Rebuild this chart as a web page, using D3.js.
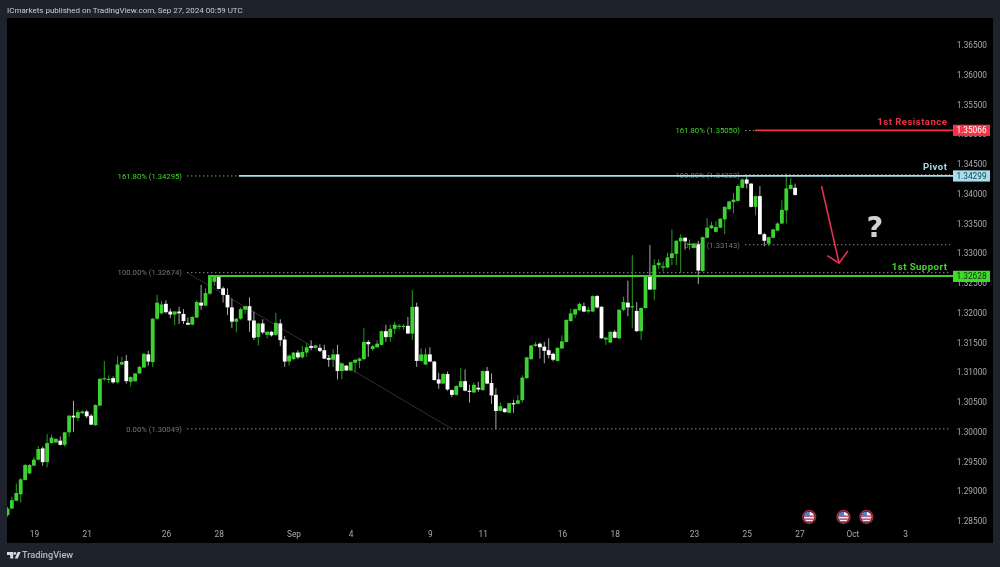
<!DOCTYPE html>
<html><head><meta charset="utf-8">
<script src="https://cdn.jsdelivr.net/npm/d3@7/dist/d3.min.js"></script>
<style>
html,body{margin:0;padding:0;background:#1e222d;overflow:hidden}
svg{display:block}
text{font-family:Roboto,"Liberation Sans",sans-serif}
</style></head><body>
<div id="chart"></div>
<script>
const opens=[12860,12871,12884,12895,12919,12930,12943,12953,12972,12949,
12981,12982,12985,12978,12999,13027,13023,13031,13034,13027,
13011,13044,13089,13087,13090,13083,13113,13119,13084,13085,
13098,13108,13130,13117,13190,13199,13215,13202,13197,13202,
13198,13183,13180,13192,13217,13212,13232,13252,13261,13241,
13230,13209,13185,13190,13205,13211,13187,13159,13182,13163,
13168,13163,13182,13155,13118,13122,13133,13125,13133,13144,
13141,13141,13137,13124,13121,13130,13102,13111,13103,13116,
13119,13122,13151,13139,13142,13146,13169,13159,13173,13177,
13177,13178,13165,13210,13119,13113,13130,13118,13088,13081,
13097,13070,13062,13075,13085,13069,13066,13074,13070,13102,
13082,13062,13035,13039,13032,13048,13047,13053,13090,13122,
13144,13148,13143,13137,13131,13119,13140,13151,13186,13197,
13204,13211,13202,13202,13228,13210,13155,13150,13168,13157,
13205,13217,13209,13203,13169,13208,13262,13239,13280,13276,
13276,13292,13299,13320,13326,13314,13309,13315,13270,13326,
13342,13336,13343,13357,13374,13386,13388,13410,13424,13417,
13378,13396,13332,13316,13326,13338,13350,13372,13408,13410];
const closes=[12871,12885,12897,12920,12944,12944,12953,12971,12949,12981,
12990,12988,12978,12999,13027,13024,13033,13034,13026,13012,
13045,13089,13090,13089,13083,13113,13117,13085,13092,13098,
13109,13131,13118,13190,13217,13214,13201,13197,13202,13199,
13186,13180,13193,13218,13212,13233,13262,13261,13240,13230,
13209,13185,13190,13206,13211,13187,13158,13182,13167,13168,
13162,13183,13154,13118,13128,13133,13125,13134,13142,13141,
13145,13136,13123,13121,13130,13102,13115,13103,13117,13121,
13123,13151,13147,13144,13148,13169,13159,13173,13180,13178,
13178,13165,13210,13119,13130,13130,13118,13087,13081,13097,
13071,13062,13077,13085,13069,13067,13079,13071,13102,13081,
13061,13035,13043,13033,13048,13047,13053,13091,13125,13145,
13147,13142,13136,13129,13121,13141,13152,13188,13199,13206,
13215,13202,13205,13228,13209,13157,13158,13168,13158,13205,
13218,13209,13211,13169,13208,13262,13239,13280,13284,13278,
13293,13300,13321,13326,13320,13316,13316,13271,13327,13343,
13347,13344,13358,13378,13387,13390,13413,13424,13417,13378,
13396,13332,13321,13327,13340,13350,13373,13409,13415,13398];
const highs=[12874,12891,12913,12922,12946,12946,12958,12976,12975,12996,
12995,12989,12992,13000,13028,13052,13037,13036,13037,13030,
13046,13090,13119,13095,13093,13127,13126,13129,13093,13099,
13111,13132,13136,13191,13230,13220,13221,13207,13203,13210,
13206,13192,13194,13221,13247,13241,13263,13262,13262,13244,
13241,13224,13191,13209,13212,13226,13202,13183,13189,13169,
13169,13200,13189,13161,13130,13134,13137,13144,13149,13154,
13146,13147,13146,13129,13139,13146,13116,13112,13118,13122,
13125,13174,13154,13146,13154,13170,13180,13180,13185,13181,
13181,13193,13238,13217,13140,13140,13142,13119,13099,13099,
13101,13071,13078,13107,13105,13079,13083,13084,13103,13109,
13098,13073,13049,13040,13049,13054,13062,13095,13126,13146,
13151,13150,13151,13157,13133,13142,13162,13189,13207,13207,
13217,13217,13210,13229,13230,13211,13159,13169,13171,13206,
13227,13254,13297,13218,13209,13263,13314,13290,13290,13286,
13301,13340,13322,13332,13327,13323,13317,13321,13328,13359,
13353,13354,13359,13379,13388,13401,13416,13426,13429,13418,
13397,13413,13334,13328,13341,13352,13389,13434,13426,13417];
const lows=[12857,12870,12883,12881,12918,12929,12943,12952,12943,12940,
12980,12981,12977,12975,12992,13000,13018,13030,13023,13011,
13010,13043,13086,13082,13081,13081,13112,13081,13076,13084,
13097,13107,13111,13109,13188,13197,13199,13191,13179,13181,
13181,13179,13179,13191,13205,13211,13230,13245,13239,13217,
13196,13174,13167,13188,13198,13168,13154,13145,13164,13157,
13160,13161,13144,13109,13111,13121,13122,13123,13126,13137,
13140,13134,13122,13109,13109,13088,13088,13102,13102,13099,
13107,13121,13126,13136,13141,13145,13151,13151,13164,13172,
13172,13165,13154,13109,13118,13112,13117,13086,13072,13080,
13069,13058,13061,13074,13068,13049,13065,13067,13069,13080,
13047,13004,13034,13032,13031,13032,13046,13049,13089,13121,
13143,13123,13115,13123,13118,13118,13139,13150,13185,13191,
13203,13201,13200,13201,13207,13156,13146,13149,13157,13156,
13203,13194,13174,13168,13154,13207,13238,13221,13273,13269,
13275,13280,13280,13267,13306,13306,13308,13248,13269,13325,
13341,13335,13342,13332,13373,13367,13387,13409,13409,13377,
13364,13331,13312,13312,13325,13337,13349,13350,13407,13397];

const priceTicks=[1.285,1.29,1.295,1.30,1.305,1.31,1.315,1.32,1.325,1.33,1.335,1.34,1.345,1.35,1.355,1.36,1.365];
const dateTickBars=[6,18,36,48,65,78,96,108,126,138,156,168,180,192,204];
const dateTickLabels=["19","21","26","28","Sep","4","9","11","16","18","23","25","27","Oct","3"];
const eventBars=[182.2,190,195.2];

const solidPrices=[1.35066,1.34299,1.32628];
const solidStarts=[169.9,52.6,45.6];
const tagTexts=["1.35066","1.34299","1.32628"];
const tagFills=["#f23645","#a5dff0","#41dc2c"];
const tagInk=["#ffffff","#1e3a44","#10300c"];
const lineColours=["#f23645","#a5dff0","#43c82c"];
const nameColours=["#e8334a","#9fdcec","#45d62e"];
const lineNames=["1st Resistance","Pivot","1st Support"];

const fibPrices=[1.35062,1.34299,1.34320,1.33143,1.32674,1.30049];
const fibStarts=[167.6,40.8,167.6,167.6,40.8,40.8];
const fibEnds=[169.9,52.6,214.2,214.2,214.2,214.2];
const fibLabels=["161.80% (1.35050)","161.80% (1.34295)","100.00% (1.34232)","0.00% (1.33143)","100.00% (1.32674)","0.00% (1.30049)"];
const fibColours=["#45d62e","#45d62e","#74767c","#74767c","#74767c","#74767c"];

const trendBars=[40.8,101];
const trendPrices=[1.32674,1.30049];
const arrowBars=[185,189];
const arrowPrices=[1.34130,1.32835];
const arrowHeadBars=[186.3,191];
const arrowHeadPrices=[1.32960,1.33040];

const W=1000,H=567;
const pane={l:7,r:993,t:18,b:543};
const x=d3.scaleLinear().domain([0,204]).range([7.5,905.1]);
const y=d3.scaleLinear().domain([1.285,1.365]).range([521,45]);
const GREEN="#3cd230",WHITE="#ffffff";

const svg=d3.select("#chart").append("svg").attr("width",W).attr("height",H);
const defs=svg.append("defs");
defs.append("clipPath").attr("id","pane").append("rect").attr("x",pane.l).attr("y",pane.t).attr("width",pane.r-pane.l).attr("height",pane.b-pane.t);
const soft=defs.append("filter").attr("id","soft");
soft.append("feGaussianBlur").attr("stdDeviation",0.3);
defs.append("clipPath").attr("id","disc").append("circle").attr("r",5.2);

svg.append("rect").attr("width",W).attr("height",H).attr("fill","#1e222d");
svg.append("rect").attr("x",pane.l).attr("y",pane.t).attr("width",pane.r-pane.l).attr("height",pane.b-pane.t).attr("fill","#000");

const root=svg.append("g").attr("filter","url(#soft)");

root.append("text").attr("x",7).attr("y",12.5).attr("font-size",8).attr("fill","#c9cbd1").text("ICmarkets published on TradingView.com, Sep 27, 2024 00:59 UTC");

// trend line under the candles
root.append("line").attr("x1",x(trendBars[0])).attr("y1",y(trendPrices[0])).attr("x2",x(trendBars[1])).attr("y2",y(trendPrices[1])).attr("stroke","#3a3b40").attr("stroke-width",0.8);

// dotted fib levels
const fib=root.append("g");
fibPrices.forEach((p,i)=>{
  fib.append("line").attr("x1",x(fibStarts[i])).attr("x2",x(fibEnds[i])).attr("y1",y(p)).attr("y2",y(p))
    .attr("stroke",i<2?fibColours[i]:"#8a8c91").attr("stroke-width",1).attr("stroke-dasharray","1.4,2.6");
  fib.append("text").attr("x",x(fibStarts[i])-5).attr("y",y(p)+2.8).attr("text-anchor","end")
    .attr("font-size",7.7).attr("fill",fibColours[i]).text(fibLabels[i]);
});

// candles
const bars=d3.range(opens.length);
const cg=root.append("g").attr("clip-path","url(#pane)");
cg.selectAll("line.wick").data(bars).join("line").attr("class","wick")
  .attr("x1",i=>x(i)).attr("x2",i=>x(i))
  .attr("y1",i=>y(highs[i]/1e4)).attr("y2",i=>y(lows[i]/1e4))
  .attr("stroke",i=>closes[i]>=opens[i]?"#2a9a22":"#a8a8a8").attr("stroke-width",1);
cg.selectAll("rect.body").data(bars).join("rect").attr("class","body")
  .attr("x",i=>x(i)-1.9).attr("width",3.8)
  .attr("y",i=>y(Math.max(opens[i],closes[i])/1e4))
  .attr("height",i=>Math.max(1.2,Math.abs(y(opens[i]/1e4)-y(closes[i]/1e4))))
  .attr("fill",i=>closes[i]>=opens[i]?GREEN:WHITE);

// solid levels
solidPrices.forEach((p,i)=>{
  const dy=i==2?0.6:0;
  root.append("line").attr("x1",x(solidStarts[i])).attr("x2",x(214.9)).attr("y1",y(p)+dy).attr("y2",y(p)+dy)
    .attr("stroke",lineColours[i]).attr("stroke-width",i==2?2:1.8);
  root.append("text").attr("x",x(213.6)).attr("y",y(p)-(i==2?5:5.8)).attr("text-anchor","end")
    .attr("font-size",9.6).attr("font-weight",700).attr("letter-spacing",0.45).attr("fill",nameColours[i]).text(lineNames[i]);
});

// down arrow and question mark
const arrow=root.append("g").attr("stroke","#e5304f").attr("stroke-width",1.6).attr("fill","none");
arrow.append("line").attr("x1",x(arrowBars[0])).attr("y1",y(arrowPrices[0])).attr("x2",x(arrowBars[1])).attr("y2",y(arrowPrices[1]));
arrow.append("polyline").attr("points",[
  [x(arrowHeadBars[0]),y(arrowHeadPrices[0])],[x(arrowBars[1]),y(arrowPrices[1])],[x(arrowHeadBars[1]),y(arrowHeadPrices[1])]
].join(" "));
root.append("text").attr("x",875).attr("y",237).attr("text-anchor","middle").attr("font-size",29).attr("font-weight",700)
  .attr("fill","#cfd1d6").style("font-family","'DejaVu Sans'").text("?");

// axes
const yAxis=root.append("g").attr("transform","translate(987,0)").call(
  d3.axisLeft(y).tickValues(priceTicks).tickSize(0).tickPadding(0).tickFormat(d3.format(".5f")));
yAxis.select(".domain").remove();
yAxis.selectAll("text").attr("font-size",8.3).attr("fill","#a9abb2").style("font-family","Roboto");
const xAxis=root.append("g").attr("transform","translate(0,530.6)").call(
  d3.axisBottom(x).tickValues(dateTickBars).tickSize(0).tickPadding(0).tickFormat((d,i)=>dateTickLabels[i]));
xAxis.select(".domain").remove();
xAxis.selectAll("text").attr("font-size",8.3).attr("fill","#a9abb2").style("font-family","Roboto");

// price tags
solidPrices.forEach((p,i)=>{
  const dy=i==2?1:0;
  root.append("rect").attr("x",953).attr("y",y(p)-5.6+dy).attr("width",37).attr("height",11.2).attr("fill",tagFills[i]);
  root.append("text").attr("x",971.5).attr("y",y(p)+3+dy).attr("text-anchor","middle").attr("font-size",8.3).attr("fill",tagInk[i]).text(tagTexts[i]);
});

// event markers
eventBars.forEach(b=>{
  const g=root.append("g").attr("transform",`translate(${x(b)},517)`);
  g.append("circle").attr("r",6.4).attr("fill","#000").attr("stroke","#a02a40").attr("stroke-width",1.5);
  const f=g.append("g").attr("clip-path","url(#disc)");
  f.append("rect").attr("x",-6).attr("y",-6).attr("width",12).attr("height",12).attr("fill","#eef0f4");
  [-1.6,1.4,4].forEach(s=>f.append("rect").attr("x",-6).attr("y",s).attr("width",12).attr("height",1.5).attr("fill","#d5475c"));
  f.append("rect").attr("x",-6).attr("y",-6).attr("width",6.5).attr("height",5.6).attr("fill","#4a7fd0");
});

// footer
const logo=root.append("g").attr("transform","translate(7,552)").attr("fill","#d6d8dd");
logo.append("path").attr("d","M0 0H6.2V6.6H3.2V3H0Z");
logo.append("circle").attr("cx",7.8).attr("cy",1.4).attr("r",1.4);
logo.append("path").attr("d","M10.6 0H13.6L10.8 6.6H7.8Z");
root.append("text").attr("x",22).attr("y",558).attr("font-size",9.2).attr("font-weight",500).attr("fill","#b9bbc2").text("TradingView");
</script>
</body></html>
